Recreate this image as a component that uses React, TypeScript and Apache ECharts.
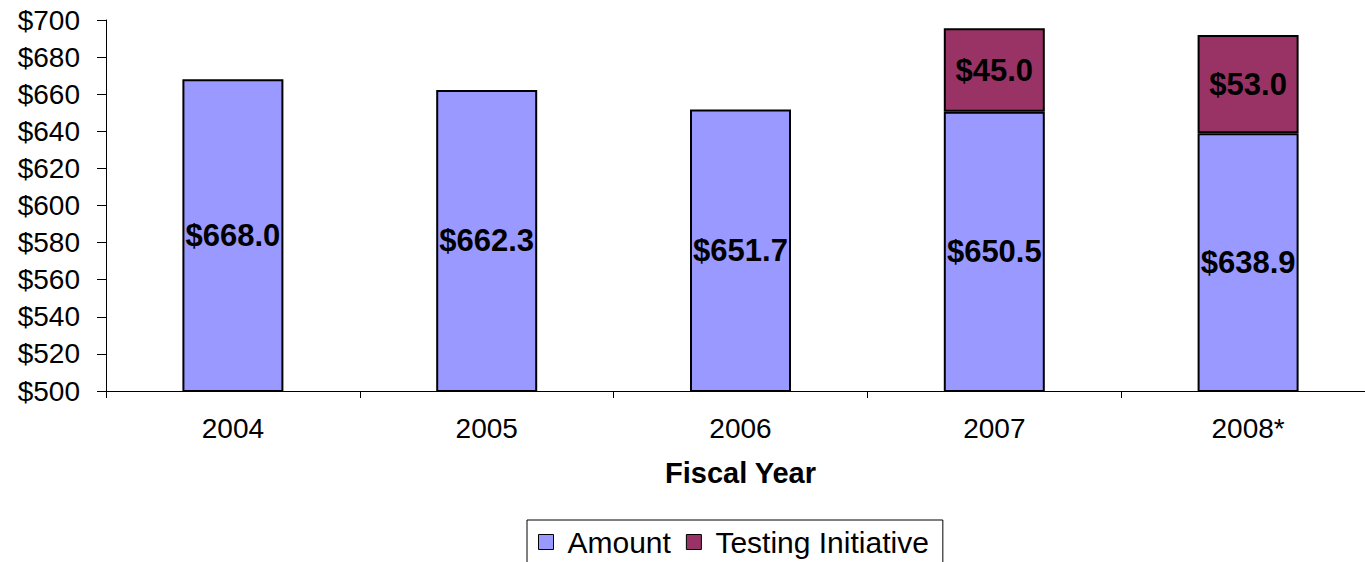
import React, { useEffect, useRef } from "react";
import * as echarts from "echarts";

const categories = ["2004", "2005", "2006", "2007", "2008*"];
const amount = [668.0, 662.3, 651.7, 650.5, 638.9];
const testing: (number | null)[] = [null, null, null, 45.0, 53.0];
const yTicks = { min: 500, max: 700, interval: 20 };

const FONT = "'Liberation Sans', Arial, sans-serif";

export default function App() {
  const ref = useRef<HTMLDivElement>(null);
  useEffect(() => {
    if (!ref.current) return;
    const chart = echarts.init(ref.current, null, { renderer: "svg" });
    const labelStyle = {
      show: true,
      position: "inside" as const,
      color: "#000",
      fontWeight: "bold" as const,
      fontSize: 31,
      fontFamily: FONT,
      formatter: (p: any) => "$" + Number(p.value).toFixed(1),
    };
    chart.setOption({
      animation: false,
      backgroundColor: "#fff",
      grid: { left: 106, top: 20, width: 1269, height: 371, containLabel: false },
      xAxis: {
        type: "category",
        data: categories,
        name: "Fiscal Year",
        nameLocation: "middle",
        nameGap: 67,
        nameTextStyle: { fontSize: 29, fontWeight: "bold", color: "#000", fontFamily: FONT },
        axisLine: { lineStyle: { color: "#000", width: 1 } },
        axisTick: { show: true, length: 7, lineStyle: { color: "#000" } },
        axisLabel: { fontSize: 28, color: "#000", margin: 23, fontFamily: FONT },
      },
      yAxis: {
        type: "value",
        min: yTicks.min,
        max: yTicks.max,
        interval: yTicks.interval,
        splitLine: { show: false },
        axisLine: { show: true, lineStyle: { color: "#000", width: 1 } },
        axisTick: { show: true, length: 9, lineStyle: { color: "#000" } },
        axisLabel: {
          fontSize: 28,
          color: "#000",
          margin: 26,
          fontFamily: FONT,
          formatter: (v: number) => "$" + v,
        },
      },
      legend: {
        left: 527,
        top: 520,
        padding: [7, 14, 8, 11],
        borderColor: "#000",
        borderWidth: 1,
        borderRadius: 0,
        icon: "rect",
        itemWidth: 15,
        itemHeight: 15,
        itemGap: 15,
        itemStyle: { borderColor: "#000", borderWidth: 1 },
        textStyle: { fontSize: 30, color: "#000", fontFamily: FONT, padding: [0, 0, 0, 9] },
        data: ["Amount", "Testing Initiative"],
      },
      series: [
        {
          name: "Amount",
          type: "bar",
          stack: "total",
          barWidth: 101,
          data: amount,
          itemStyle: { color: "#9999FF", borderColor: "#000", borderWidth: 2 },
          label: labelStyle,
        },
        {
          name: "Testing Initiative",
          type: "bar",
          stack: "total",
          barWidth: 101,
          data: testing,
          itemStyle: { color: "#993366", borderColor: "#000", borderWidth: 2 },
          label: labelStyle,
        },
      ],
    });
    return () => chart.dispose();
  }, []);
  return (
    <div
      style={{
        position: "absolute",
        left: 0,
        top: 0,
        width: 1365,
        height: 562,
        overflow: "hidden",
        background: "#fff",
      }}
    >
      <div ref={ref} style={{ width: 1380, height: 562 }} />
    </div>
  );
}
